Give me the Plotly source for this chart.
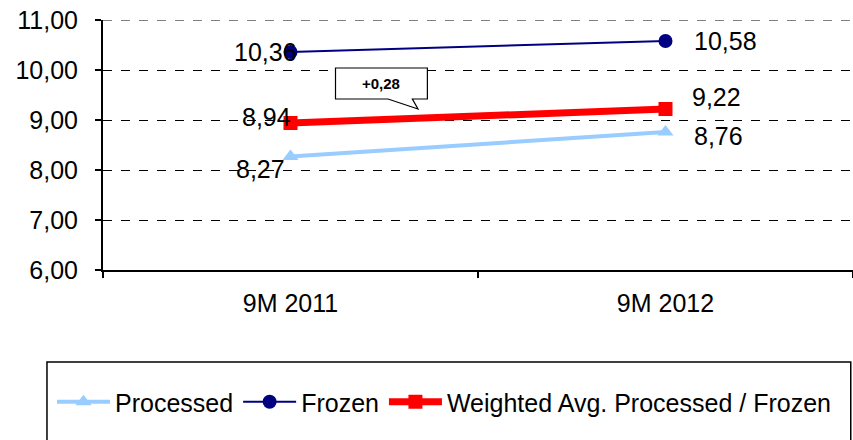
import plotly.graph_objects as go

# Price per kg by period
periods = ["9M 2011", "9M 2012"]
processed = [8.27, 8.76]
frozen = [10.36, 10.58]
weighted = [8.94, 9.22]

y_ticks = [6, 7, 8, 9, 10, 11]

FONT = "Liberation Sans, Arial, sans-serif"
FS = 25
x_pos = list(range(len(periods)))


def fmt(v):
    return f"{v:.2f}".replace(".", ",")


fig = go.Figure()

fig.add_trace(go.Scatter(
    x=x_pos, y=processed, name="Processed", mode="lines+markers",
    line=dict(color="#99CCFF", width=4),
    marker=dict(symbol="triangle-up", size=14, color="#99CCFF"),
))
fig.add_trace(go.Scatter(
    x=x_pos, y=frozen, name="Frozen", mode="lines+markers",
    line=dict(color="#000080", width=2),
    marker=dict(symbol="circle", size=14, color="#000080"),
))
fig.add_trace(go.Scatter(
    x=x_pos, y=weighted, name="Weighted Avg. Processed / Frozen",
    mode="lines+markers",
    line=dict(color="#FF0000", width=7),
    marker=dict(symbol="square", size=14, color="#FF0000"),
))

# Data labels: (series, left-label shift, right-label shift)
label_specs = [
    (processed, (-4, -12), (26, -4)),
    (frozen, (8, 0), (26, 0)),
    (weighted, (2, 6), (24, 12)),
]
annotations = []
for series, (lx, ly), (rx, ry) in label_specs:
    annotations.append(dict(
        x=x_pos[0], y=series[0], text=fmt(series[0]), showarrow=False,
        xanchor="right", yanchor="middle", xshift=lx, yshift=ly,
        font=dict(family=FONT, size=FS, color="black"),
    ))
    annotations.append(dict(
        x=x_pos[1], y=series[1], text=fmt(series[1]), showarrow=False,
        xanchor="left", yanchor="middle", xshift=rx, yshift=ry,
        font=dict(family=FONT, size=FS, color="black"),
    ))

# Callout showing the change in the weighted average
delta = round(weighted[1] - weighted[0], 2)
bx0, bx1, by0, by1 = 0.12, 0.365, 9.42, 10.04
tx0, tx1, tipx, tipy = 0.26, 0.325, 0.34, 9.22
callout_path = (
    f"M{bx0},{by1} L{bx1},{by1} L{bx1},{by0} L{tx1},{by0} "
    f"L{tipx},{tipy} L{tx0},{by0} L{bx0},{by0} Z"
)
shapes = [
    # dashed gridline along the top of the plot
    dict(type="line", xref="paper", yref="y", x0=0, x1=1,
         y0=y_ticks[-1], y1=y_ticks[-1],
         line=dict(color="black", width=1, dash="dash"), layer="below"),
    dict(type="path", xref="x", yref="y", path=callout_path,
         line=dict(color="black", width=1.2), fillcolor="white", layer="above"),
    # legend frame
    dict(type="rect", xref="paper", yref="paper",
         x0=-0.0747, x1=0.997, y0=-0.72, y1=-0.368,
         line=dict(color="black", width=1.5), fillcolor="rgba(0,0,0,0)"),
]
annotations.append(dict(
    x=(bx0 + bx1) / 2, y=(by0 + by1) / 2, text=f"<b>+{fmt(delta)}</b>",
    showarrow=False, font=dict(family=FONT, size=15, color="black"),
))

fig.update_layout(
    width=853, height=440,
    margin=dict(l=103, r=0, t=20, b=170),
    paper_bgcolor="white", plot_bgcolor="white",
    font=dict(family=FONT, size=FS, color="black"),
    separators=",.",
    showlegend=True,
    legend=dict(
        orientation="h", x=-0.068, xanchor="left", y=-0.528, yanchor="middle",
        font=dict(family=FONT, size=FS, color="black"),
        itemwidth=53, tracegroupgap=0, bgcolor="rgba(0,0,0,0)",
    ),
    shapes=shapes,
    annotations=annotations,
)

fig.update_xaxes(
    range=[-0.5, 1.5], tickvals=x_pos, ticktext=periods,
    ticks="", showgrid=False, zeroline=False,
    showline=True, linecolor="black", linewidth=2,
    tickfont=dict(family=FONT, size=FS, color="black"),
    ticklabelstandoff=10,
    minor=dict(tickvals=[-0.5, 0.5, 1.5], ticks="outside", ticklen=6,
               tickcolor="black", tickwidth=2, showgrid=False),
)
fig.update_yaxes(
    range=[6, 11], tickvals=y_ticks, tickformat=".2f",
    ticks="outside", ticklen=6, tickcolor="black", tickwidth=2,
    showline=True, linecolor="black", linewidth=2,
    showgrid=True, gridcolor="black", gridwidth=1, griddash="dash",
    zeroline=False,
    tickfont=dict(family=FONT, size=FS, color="black"),
    ticklabelstandoff=12,
)

fig.write_html("out.html")
